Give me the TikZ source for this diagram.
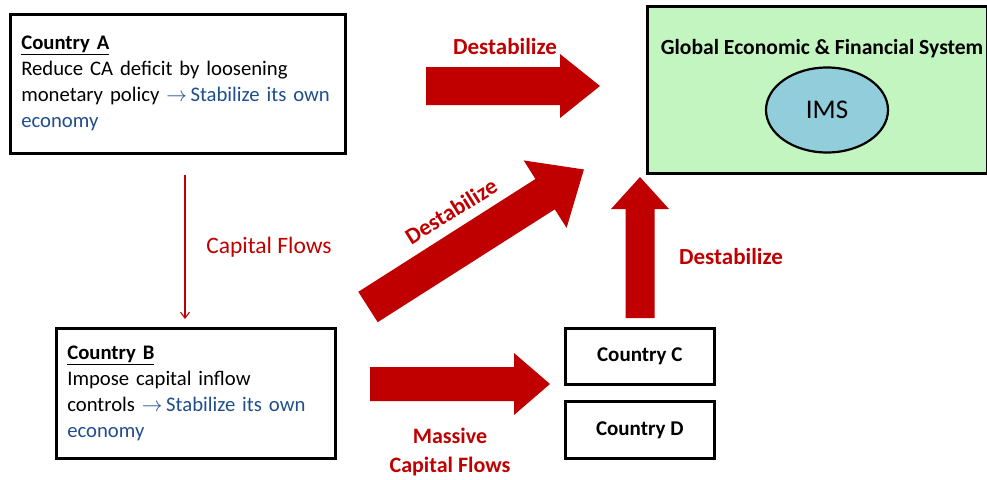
\documentclass[tikz,border=0pt]{standalone}
\usepackage{fontspec}
\setmainfont{Carlito}
\usetikzlibrary{arrows.meta,shapes.geometric}
\definecolor{darkred}{HTML}{C00000}
\definecolor{econblue}{HTML}{1F4E8C}
\definecolor{sysgreen}{HTML}{C3F5C0}
\definecolor{imsblue}{HTML}{92CDDC}
% fat block arrow: tail point, angle, length, shaft width, head width, head length
\newcommand\fatarrow[7]{%
  \fill[darkred,shift={(#1,#2)},rotate=#3]
    (0,-#5/2) -- (#4-#7,-#5/2) -- (#4-#7,-#6/2) -- (#4,0)
    -- (#4-#7,#6/2) -- (#4-#7,#5/2) -- (0,#5/2) -- cycle;}
\begin{document}
\begin{tikzpicture}[x=1pt,y=-1pt,
  box/.style={draw=black,line width=2.6pt,rectangle,anchor=north west,inner sep=0pt},
  txtbox/.style={box,align=left,font=\fontsize{20.7}{26}\selectfont,inner xsep=11pt},
  redlbl/.style={text=darkred,font=\fontsize{22}{29}\selectfont\bfseries,align=center},
  destlbl/.style={text=darkred,font=\fontsize{23}{28}\selectfont\bfseries}]
\useasboundingbox (0,0) rectangle (987,479);
% Country A
\fill[gray!60] (12,16) rectangle (347,155);
\node[txtbox,fill=white,minimum width=335pt,minimum height=139pt,text width=313pt] (A) at (9,13)
  {\textbf{\underline{Country A}}\\Reduce CA deficit by loosening\\monetary policy {\color{econblue}$\rightarrow$\,Stabilize its own}\\{\color{econblue}economy}};
% Country B
\node[txtbox,minimum width=279pt,minimum height=130pt,text width=257pt] (B) at (55,327)
  {\textbf{\underline{Country B}}\\Impose capital inflow\\controls {\color{econblue}$\rightarrow$\,Stabilize its own}\\{\color{econblue}economy}};
% Countries C and D
\node[box,minimum width=149pt,minimum height=56pt,font=\fontsize{21}{25}\selectfont\bfseries] (C) at (564,327) {Country C};
\node[box,minimum width=149pt,minimum height=57pt,font=\fontsize{21}{25}\selectfont\bfseries] (D) at (564,400) {Country D};
% Global system with the IMS
\node[box,fill=sysgreen,minimum width=340pt,minimum height=167pt] (G) at (646,5) {};
\node[font=\fontsize{21.6}{25}\selectfont\bfseries] (Gt) at (822,49) {Global Economic \& Financial System};
\node[ellipse,draw=black,line width=2.2pt,fill=imsblue,minimum width=122pt,minimum height=85pt,
  inner sep=0pt,font=\fontsize{27}{30}\selectfont] (IMS) at (827,110) {IMS};
% capital flows from A to B
\draw[darkred,line width=1.1pt,-{Straight Barb[length=6pt,width=9pt]}] (A.south -| 185,0) ++(0,20) coordinate (a1) -- (185,319) coordinate (b1);
\node[text=darkred,font=\fontsize{23.5}{28}\selectfont] (cf) at (269,247) {Capital Flows};
% destabilizing flows
\fatarrow{426}{86}{0}{174}{38}{64}{40}
\fatarrow{368}{307}{32.5}{256}{36}{80}{46}
\fatarrow{640}{318}{90}{141}{29}{58}{32}
\fatarrow{370}{384}{0}{180}{34}{62}{36}
\node[destlbl] (d1) at (505,47) {Destabilize};
\node[destlbl,rotate=32] (d2) at (451,211) {Destabilize};
\node[destlbl] (d3) at (731,257) {Destabilize};
\node[redlbl] (mc) at (450,452) {Massive\\Capital Flows};
\end{tikzpicture}
\end{document}
